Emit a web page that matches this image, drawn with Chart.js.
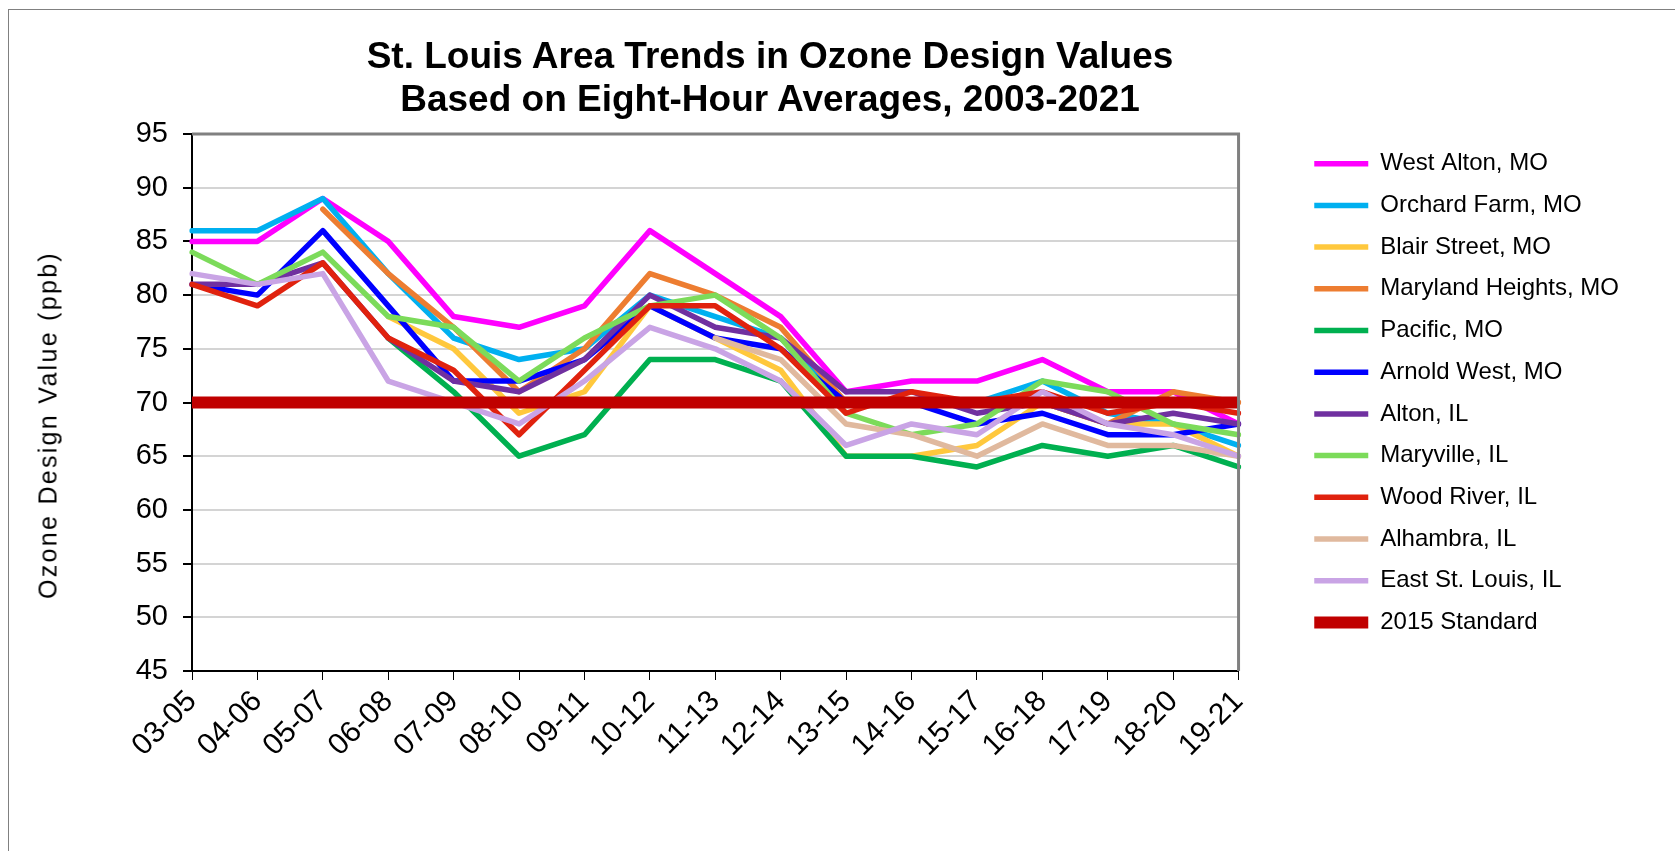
<!DOCTYPE html>
<html>
<head>
<meta charset="utf-8">
<script src="https://cdn.jsdelivr.net/npm/chart.js@4.4.0/dist/chart.umd.min.js"></script>
<style>
    body { margin: 0; background: #fff; overflow: hidden; }
    #wrap { position: relative; width: 1675px; height: 851px; }
    #frame { position: absolute; left: 8px; top: 9px; width: 1700px; height: 900px; border: 1px solid #808080; }
    #title { position: absolute; left: 0; top: 34px; width: 1540px; text-align: center;
        font: bold 37px "Liberation Sans", Arial, sans-serif; line-height: 43px; color: #000; }
    #ytitle { position: absolute; left: 48px; top: 425px; transform: translate(-50%, -50%) rotate(-90deg);
        white-space: nowrap; font: 25px "Liberation Sans", Arial, sans-serif; letter-spacing: 2.3px; color: #000; }
    canvas { position: absolute; left: 0; top: 0; }
</style>
</head>
<body>
<div id="wrap">
    <div id="frame"></div>
    <canvas id="OzoneChart" width="1675" height="851"></canvas>
    <div id="title">St. Louis Area Trends in Ozone Design Values<br>Based on Eight-Hour Averages, 2003-2021</div>
    <div id="ytitle">Ozone Design Value (ppb)</div>
</div>
<script>
var Periods = ['03-05', '04-06', '05-07', '06-08', '07-09', '08-10', '09-11', '10-12', '11-13',
    '12-14', '13-15', '14-16', '15-17', '16-18', '17-19', '18-20', '19-21']

var WestAlton = [85, 85, 89, 85, 78, 77, 79, 86, 82, 78, 71, 72, 72, 74, 71, 71, 68]
var OrchardFarm = [86, 86, 89, 82, 76, 74, 75, 80, 78, 76, 70, 70, 70, 72, 69, 68, 66]
var BlairStreet = [null, null, null, 78, 75, 69, 71, 79, 76, 73, 65, 65, 66, 70, 68, 68, 65]
var MarylandHeights = [null, null, 88, 82, 77, 71, 75, 82, 80, 77, 70, 70, 70, 70, 68, 71, 70]
var Pacific = [null, null, null, 76, 71, 65, 67, 74, 74, 72, 65, 65, 64, 66, 65, 66, 64]
var ArnoldWest = [81, 80, 86, 79, 72, 72, 74, 79, 76, 75, 70, 70, 68, 69, 67, 67, 68]
var Alton = [81, 81, 83, 76, 72, 71, 74, 80, 77, 76, 71, 71, 69, 70, 68, 69, 68]
var Maryville = [84, 81, 84, 78, 77, 72, 76, 79, 80, 76, 69, 67, 68, 72, 71, 68, 67]
var WoodRiver = [81, 79, 83, 76, 73, 67, 73, 79, 79, 75, 69, 71, 70, 71, 69, 70, 69]
var Alhambra = [null, null, null, null, null, null, null, null, 76, 74, 68, 67, 65, 68, 66, 66, 65]
var EastStLouis = [82, 81, 82, 72, 70, 68, 72, 77, 75, 72, 66, 68, 67, 71, 68, 67, 65]
var Standard2015 = [70, 70, 70, 70, 70, 70, 70, 70, 70, 70, 70, 70, 70, 70, 70, 70, 70]

var YTicks = [45, 50, 55, 60, 65, 70, 75, 80, 85, 90, 95]

var SeriesNames = ['West Alton, MO', 'Orchard Farm, MO', 'Blair Street, MO', 'Maryland Heights, MO',
    'Pacific, MO', 'Arnold West, MO', 'Alton, IL', 'Maryville, IL', 'Wood River, IL',
    'Alhambra, IL', 'East St. Louis, IL', '2015 Standard']
var SeriesData = [WestAlton, OrchardFarm, BlairStreet, MarylandHeights, Pacific, ArnoldWest,
    Alton, Maryville, WoodRiver, Alhambra, EastStLouis, Standard2015]
var SeriesColor = ['#FF00FF', '#00B0F0', '#FFC83D', '#ED7D31', '#00B050', '#0000FF',
    '#7030A0', '#7CDB5A', '#E0220E', '#E0B99E', '#C9A4E5', '#C00000']

var FONT = '"Liberation Sans", Arial, sans-serif'

var datasets = []
for (var i = 0; i < SeriesNames.length; i++) {
    var isStd = i == SeriesNames.length - 1
    datasets.push({
        label: SeriesNames[i],
        data: SeriesData[i],
        borderColor: SeriesColor[i],
        backgroundColor: SeriesColor[i],
        borderWidth: isStd ? 12 : 5.5,
        borderCapStyle: isStd ? 'butt' : 'round',
        borderJoinStyle: 'round',
        pointRadius: 0,
        tension: 0,
        spanGaps: false,
        order: -i, // later series drawn on top, like the original
    })
}

// gray frame on top and right of the plot
var plotFrame = {
    id: 'plotFrame',
    afterDatasetsDraw: function (chart) {
        var a = chart.chartArea
        var ctx = chart.ctx
        ctx.save()
        ctx.strokeStyle = '#808080'
        ctx.lineWidth = 3
        ctx.beginPath()
        ctx.moveTo(a.left, a.top)
        ctx.lineTo(a.right, a.top)
        ctx.lineTo(a.right, a.bottom)
        ctx.stroke()
        ctx.restore()
    }
}

var config_Ozone = {
    type: 'line',
    data: {
        labels: Periods,
        datasets: datasets,
    },
    plugins: [plotFrame],
    options: {
        responsive: false,
        animation: false,
        layout: {
            padding: { top: 134, bottom: 0, left: 0, right: 46 }
        },
        plugins: {
            title: { display: false },
            tooltip: { enabled: false },
            legend: {
                position: 'right',
                align: 'start',
                maxWidth: 600,
                labels: {
                    usePointStyle: true,
                    pointStyle: 'line',
                    pointStyleWidth: 54,
                    padding: 17.7,
                    color: '#000',
                    font: { family: FONT, size: 24 },
                    sort: function (a, b) { return a.datasetIndex - b.datasetIndex },
                },
            },
        },
        scales: {
            x: {
                offset: false,
                grid: {
                    display: true,
                    drawOnChartArea: false,
                    drawTicks: true,
                    tickLength: 9,
                    tickColor: '#000',
                    lineWidth: 1,
                },
                border: { display: true, color: '#000', width: 2 },
                ticks: {
                    color: '#000',
                    font: { family: FONT, size: 30 },
                    maxRotation: 45,
                    minRotation: 45,
                    padding: 4,
                    autoSkip: false,
                },
                afterFit: function (scale) { scale.height = 180 },
            },
            y: {
                min: 45,
                max: 95,
                afterBuildTicks: function (scale) {
                    scale.ticks = YTicks.map(function (v) { return { value: v } })
                },
                grid: {
                    color: '#D4D4D4',
                    lineWidth: 2,
                    tickColor: '#000',
                    tickLength: 9,
                },
                border: { display: true, color: '#000', width: 2 },
                ticks: {
                    color: '#000',
                    font: { family: FONT, size: 29 },
                    padding: 15,
                },
                afterFit: function (scale) { scale.width = 192 },
            },
            y2: {
                position: 'right',
                display: true,
                grid: { display: false, drawTicks: false },
                border: { display: false },
                ticks: { display: false },
                afterFit: function (scale) { scale.width = 58 },
            },
        }
    },
}

var OzoneChartElement = document.getElementById('OzoneChart').getContext('2d');
new Chart(OzoneChartElement, config_Ozone);
</script>
</body>
</html>
